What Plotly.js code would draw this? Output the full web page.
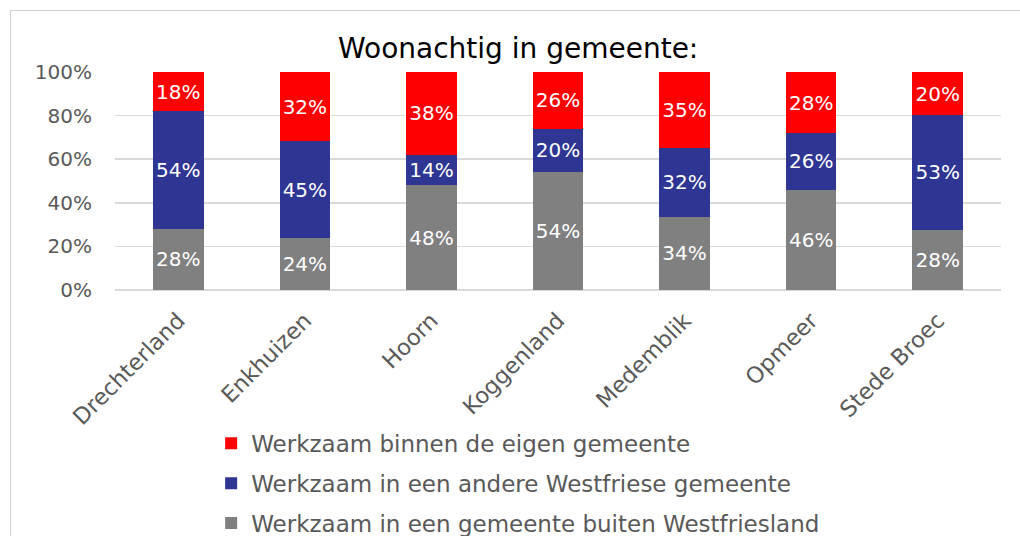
<!DOCTYPE html>
<html>
<head>
<meta charset="utf-8">
<script src="https://cdn.plot.ly/plotly-3.0.1.min.js"></script>
<style>
html,body{margin:0;padding:0;background:#fff;overflow:hidden;}
#wrap{position:relative;width:1020px;height:536px;overflow:hidden;}
#chart{width:1020px;height:536px;}
#frame{position:absolute;left:10px;top:10px;width:1100px;height:700px;border:1.5px solid #d0d0d0;pointer-events:none;}
</style>
</head>
<body>
<div id="wrap"><div id="chart"></div><div id="frame"></div></div>
<script>
const categories = ['Drechterland','Enkhuizen','Hoorn','Koggenland','Medemblik','Opmeer','Stede Broec'];
const buiten = [28,24,48,54,34,46,28];
const andere = [54,45,14,20,32,26,53];
const eigen  = [18,32,38,26,35,28,20];
const seriesNames = ['Werkzaam in een gemeente buiten Westfriesland','Werkzaam in een andere Westfriese gemeente','Werkzaam binnen de eigen gemeente'];
const seriesColors = ['#808080','#2E3592','#FF0000'];
const seriesValues = [buiten, andere, eigen];
const FONT = 'DejaVu Sans, sans-serif';

const traces = seriesValues.map((vals,i)=>({
  type:'bar', x:categories, y:vals, name:seriesNames[i],
  legendgroup:'g'+i, legendrank: 3-i,
  marker:{color:seriesColors[i], line:{width:0}},
  text: vals.map(v=>v+'%'), textposition:'inside', insidetextanchor:'middle',
  textangle:0, constraintext:'none',
  textfont:{family:FONT, size:20, color:'#ffffff'},
  hoverinfo:'skip'
}));

const layout = {
  width:1020, height:536,
  margin:{l:115, r:19, t:72, b:246, autoexpand:false},
  paper_bgcolor:'#ffffff', plot_bgcolor:'#ffffff',
  barmode:'stack', barnorm:'percent', bargap:0.6,
  title:{text:'Woonachtig in gemeente:', font:{family:FONT, size:28, color:'#000000'}, x:0.508, xanchor:'center', y:0.91, yanchor:'middle'},
  xaxis:{tickangle:-45, tickfont:{family:FONT, size:22.5, color:'#595959'}, ticklabelstandoff:12, showline:false, ticks:'', automargin:false},
  yaxis:{range:[0,100], tickvals:[0,20,40,60,80,100], ticktext:['0%','20%','40%','60%','80%','100%'],
         tickfont:{family:FONT, size:20, color:'#595959'}, gridcolor:'#d9d9d9', gridwidth:1.5,
         zeroline:true, zerolinecolor:'#d9d9d9', zerolinewidth:1.5, ticklabelstandoff:22, fixedrange:true, automargin:false},
  showlegend:true,
  legend:{orientation:'v', xref:'container', yref:'container', x:0.207, xanchor:'left', y:0.213, yanchor:'top', traceorder:'grouped',
          tracegroupgap:7, font:{family:FONT, size:23, color:'#595959'}, bgcolor:'rgba(0,0,0,0)'}
};
Plotly.newPlot('chart', traces, layout, {displayModeBar:false, staticPlot:true});
</script>
</body>
</html>
